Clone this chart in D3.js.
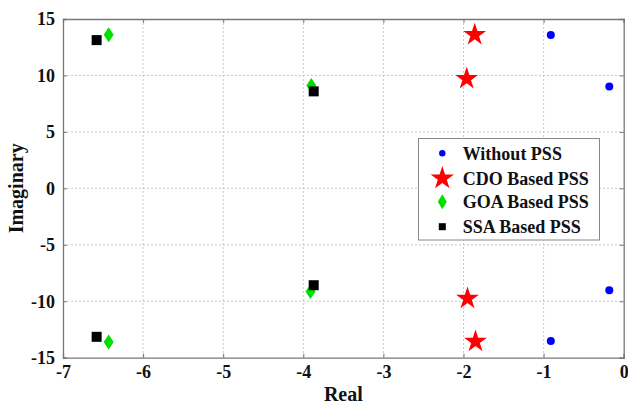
<!DOCTYPE html>
<html><head><meta charset="utf-8">
<script src="https://cdn.jsdelivr.net/npm/d3@7"></script>
<style>body{margin:0;background:#fff}svg{display:block}text{font-family:"Liberation Serif","Times New Roman",serif;font-weight:bold;fill:#111}</style>
</head><body><svg id="c" width="628" height="407"></svg>
<script>
const seriesNames = ["Without PSS","CDO Based PSS","GOA Based PSS","SSA Based PSS"];
const withoutReal = [-0.91,-0.18,-0.18,-0.91];
const withoutImag = [13.58,9.03,-9.02,-13.53];
const cdoReal = [-1.86,-1.96,-1.95,-1.85];
const cdoImag = [13.6,9.71,-9.76,-13.57];
const goaReal = [-6.43,-3.90,-3.91,-6.43];
const goaImag = [13.6,9.12,-9.14,-13.6];
const ssaReal = [-6.58,-3.87,-3.87,-6.58];
const ssaImag = [13.13,8.59,-8.58,-13.15];
const xTicks = [-7,-6,-5,-4,-3,-2,-1,0];
const yTicks = [-15,-10,-5,0,5,10,15];

const svg = d3.select("#c");
const L=63,R=623.7,T=19,B=357.7;
const x = d3.scaleLinear().domain([-7,0]).range([L,R]);
const y = d3.scaleLinear().domain([-15,15]).range([B,T]);
const fmt = d => String(d);

// grid
const g = svg.append("g");
g.selectAll(".gx").data(xTicks.slice(1,-1)).enter().append("line")
 .attr("x1",d=>x(d)).attr("x2",d=>x(d)).attr("y1",T).attr("y2",B)
 .attr("stroke","#bbb").attr("stroke-width",0.8).attr("stroke-dasharray","2,2");
g.selectAll(".gy").data(yTicks.slice(1,-1)).enter().append("line")
 .attr("y1",d=>y(d)).attr("y2",d=>y(d)).attr("x1",L).attr("x2",R)
 .attr("stroke","#bbb").attr("stroke-width",0.8).attr("stroke-dasharray","2,2");

// axes
svg.append("g").attr("transform",`translate(0,${B})`)
 .call(d3.axisBottom(x).tickValues(xTicks).tickFormat(fmt).tickSize(-4).tickPadding(8));
svg.append("g").attr("transform",`translate(${L},0)`)
 .call(d3.axisLeft(y).tickValues(yTicks).tickFormat(fmt).tickSize(-4).tickPadding(8));
svg.append("g").attr("transform",`translate(0,${T})`)
 .call(d3.axisTop(x).tickValues(xTicks).tickFormat("").tickSize(-4));
svg.append("g").attr("transform",`translate(${R},0)`)
 .call(d3.axisRight(y).tickValues(yTicks).tickFormat("").tickSize(-4));
svg.selectAll(".domain").attr("stroke","#777").attr("stroke-width",1.3);
svg.selectAll(".tick line").attr("stroke","#777");
svg.selectAll(".tick text").style("font-size","18px").style("font-family","'Liberation Serif',serif").style("font-weight","bold").style("fill","#111");

svg.append("text").attr("x",(L+R)/2).attr("y",401).attr("text-anchor","middle").style("font-size","20px").text("Real");
svg.append("text").attr("transform",`translate(23,${(T+B)/2}) rotate(-90)`).attr("text-anchor","middle").style("font-size","20px").text("Imaginary");

const star = d3.symbol().type(d3.symbolStar).size(160);
const diamond = "M0,-7.5L5,0L0,7.5L-5,0Z";
function draw(xs, ys, kind){
  const pts = xs.map((v,i)=>[v,ys[i]]);
  const sel = svg.append("g").selectAll("path").data(pts).enter();
  if(kind===0) sel.append("circle").attr("cx",d=>x(d[0])).attr("cy",d=>y(d[1])).attr("r",4).attr("fill","#0000ff");
  if(kind===1) sel.append("path").attr("d",star).attr("transform",d=>`translate(${x(d[0])},${y(d[1])})`).attr("fill","#ff0000");
  if(kind===2) sel.append("path").attr("d",diamond).attr("transform",d=>`translate(${x(d[0])},${y(d[1])})`).attr("fill","#00e000");
  if(kind===3) sel.append("rect").attr("x",d=>x(d[0])-5).attr("y",d=>y(d[1])-5).attr("width",10).attr("height",10).attr("fill","#000");
}
draw(withoutReal,withoutImag,0);
draw(cdoReal,cdoImag,1);
draw(goaReal,goaImag,2);
draw(ssaReal,ssaImag,3);

// legend
const lg = svg.append("g");
lg.append("rect").attr("x",418.5).attr("y",138.5).attr("width",181).attr("height",101.5).attr("fill","#fff").attr("stroke","#888").attr("stroke-width",1);
const rows=[153.3,178.3,201.7,226.7];
rows.forEach((ry,i)=>{
  const mx=442.3;
  if(i===0) lg.append("circle").attr("cx",mx).attr("cy",ry).attr("r",3.2).attr("fill","#0000ff");
  if(i===1) lg.append("path").attr("d",d3.symbol().type(d3.symbolStar).size(170)).attr("transform",`translate(${mx},${ry})`).attr("fill","#ff0000");
  if(i===2) lg.append("path").attr("d","M0,-7.5L4.5,0L0,7.5L-4.5,0Z").attr("transform",`translate(${mx},${ry})`).attr("fill","#00e000");
  if(i===3) lg.append("rect").attr("x",mx-3.5).attr("y",ry-3.5).attr("width",7).attr("height",7).attr("fill","#000");
  lg.append("text").attr("x",462.7).attr("y",ry).attr("dy","0.35em").style("font-size","18px").text(seriesNames[i]);
});
</script></body></html>
